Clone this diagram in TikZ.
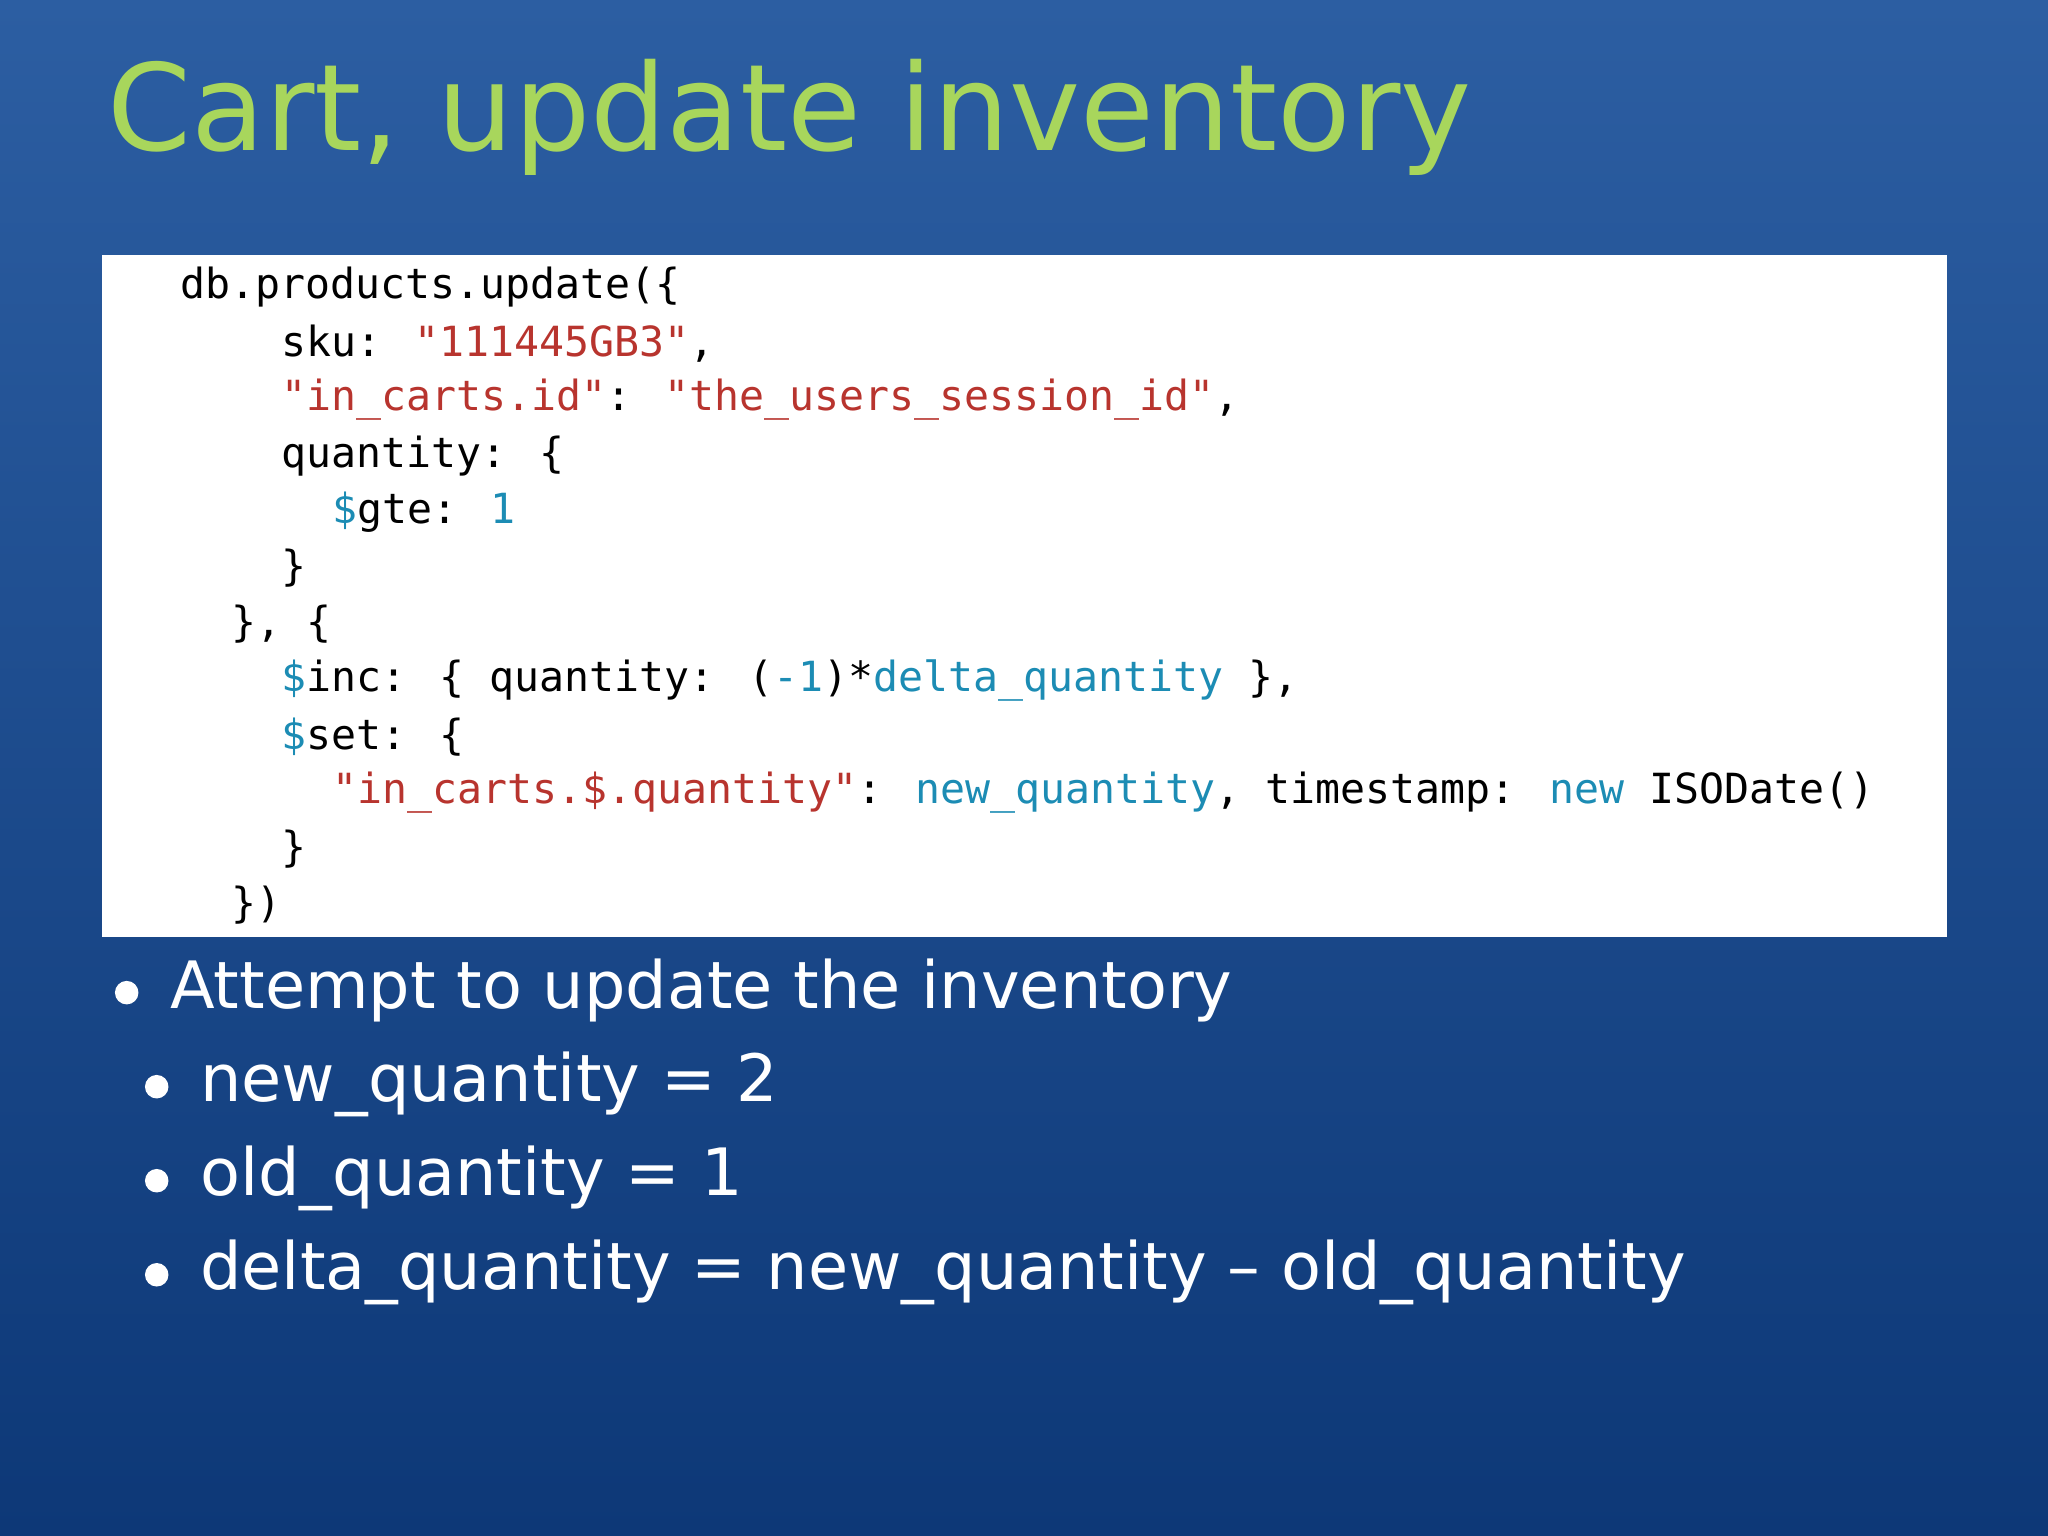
\documentclass[tikz,border=0pt]{standalone}
\usepackage{fontspec}
\setmainfont{DejaVu Sans}
\newfontfamily\codefont{DejaVu Sans Mono}
\definecolor{bgtop}{HTML}{2C5EA2}
\definecolor{bgbot}{HTML}{0D3877}
\definecolor{titlegreen}{HTML}{A8D65C}
\definecolor{strred}{HTML}{B8342E}
\definecolor{kwteal}{HTML}{1C8CB4}
\newcommand{\R}[1]{\textcolor{strred}{#1}}
\newcommand{\T}[1]{\textcolor{kwteal}{#1}}
\tikzset{
  codeline/.style={anchor=west, inner sep=0pt, font=\codefont\fontsize{15.9}{18}\selectfont, text=black},
  bullettext/.style={anchor=west, inner sep=0pt, text=white, font=\fontsize{25}{30}\selectfont},
  dot/.style={circle, fill=white, inner sep=0pt, minimum size=9pt}
}
\begin{document}
\begin{tikzpicture}[x=0.5pt,y=-0.5pt]
\shade[top color=bgtop, bottom color=bgbot] (0,0) rectangle (1568,1176);
\useasboundingbox (0,0) rectangle (1568,1176);
\node[anchor=west, inner sep=0pt, text=titlegreen, font=\fontsize{46}{50}\selectfont] (title) at (82,90) {Cart, update inventory};
\node[fill=white, minimum width=706pt, minimum height=261pt, inner sep=0pt, anchor=north west] (box) at (78,195) {};
\node[codeline] (l1) at (138,220) {db.products.update(\{};
\node[codeline] (l2) at (215,263) {sku: \R{"111445GB3"},};
\node[codeline] (l3) at (215,306) {\R{"in\_carts.id"}: \R{"the\_users\_session\_id"},};
\node[codeline] (l4) at (215,349) {quantity: \{};
\node[codeline] (l5) at (254,392) {\T{\$}gte: \T{1}};
\node[codeline] (l6) at (215,435) {\}};
\node[codeline] (l7) at (177,478) {\}, \{};
\node[codeline] (l8) at (215,521) {\T{\$}inc: \{ quantity: (\T{-1})*\T{delta\_quantity} \},};
\node[codeline] (l9) at (215,564) {\T{\$}set: \{};
\node[codeline] (l10) at (254,607) {\R{"in\_carts.\$.quantity"}: \T{new\_quantity}, timestamp: \T{new} ISODate()};
\node[codeline] (l11) at (215,650) {\}};
\node[codeline] (l12) at (177,693) {\})};
\node[dot] (d1) at (97,760) {};
\node[bullettext] (b1) at (130,758) {Attempt to update the inventory};
\node[dot] (d2) at (120,832) {};
\node[bullettext] (b2) at (153,830) {new\_quantity = 2};
\node[dot] (d3) at (120,904) {};
\node[bullettext] (b3) at (153,902) {old\_quantity = 1};
\node[dot] (d4) at (120,976) {};
\node[bullettext] (b4) at (153,974) {delta\_quantity = new\_quantity – old\_quantity};
\end{tikzpicture}
\end{document}
